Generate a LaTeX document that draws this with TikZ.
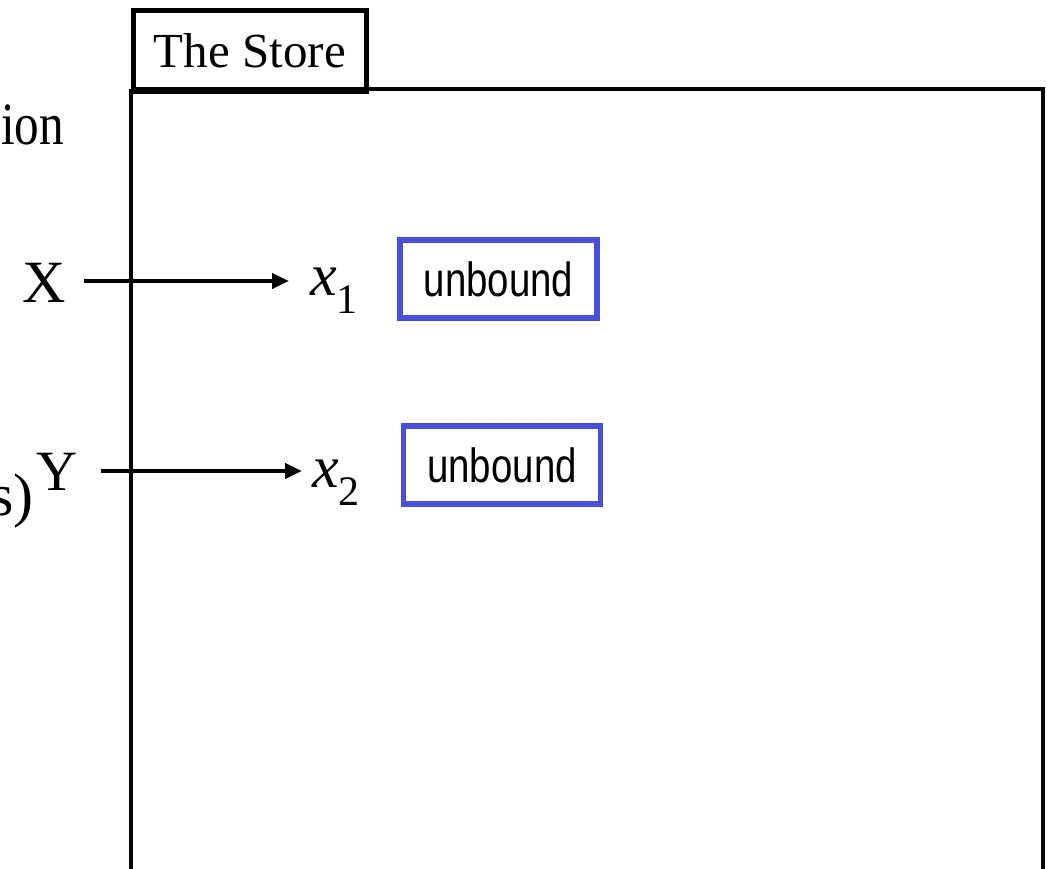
\documentclass[tikz,border=0pt]{standalone}
\usepackage{fontspec}
\setmainfont{Liberation Serif}
\newfontfamily\unbfont{Liberation Sans}
\usetikzlibrary{arrows.meta}
\definecolor{boxblue}{RGB}{72,80,216}
\tikzset{
  frame/.style={draw=black, line width=4.7pt},
  bigtxt/.style={font=\fontsize{60}{60}\selectfont, inner sep=0pt},
  varbox/.style={draw=boxblue, line width=5.5pt, minimum width=197pt, minimum height=78pt, inner sep=0pt,
    font=\unbfont\fontsize{48}{48}\selectfont},
  ptr/.style={line width=4.5pt, -{Triangle[length=17pt,width=15pt]}},
}
\newcommand{\varlabel}[1]{{\itshape x}\raisebox{-18pt}{\fontsize{42}{42}\selectfont #1}}
\begin{document}
\begin{tikzpicture}[x=1pt,y=-1pt]
\useasboundingbox (0,0) rectangle (1047,869);
\clip (0,0) rectangle (1047,869);
% store
\draw[frame] (131,89) -- (1043,89) -- (1043,900);
\draw[frame] (131,900) -- (131,89);
\node[frame, anchor=north west, minimum width=233pt, minimum height=81pt, inner sep=0pt,
  font=\fontsize{49}{49}\selectfont] (tab) at (131,8) {The Store};
% left texts
\node[bigtxt, anchor=base west] (ion) at (1,145) {\scalebox{0.82}[1]{ion}};
\node[bigtxt, anchor=base west] (X) at (22,302) {X};
\node[bigtxt, anchor=base east] (s) at (34,515) {s)};
\node[bigtxt, anchor=base west, font=\fontsize{57}{57}\selectfont] (Y) at (36,490) {Y};
% variables
\node[bigtxt, anchor=base west] (x1) at (310,295) {\varlabel{1}};
\node[bigtxt, anchor=base west] (x2) at (312,487) {\varlabel{2}};
\coordinate (a1) at (84,281);
\coordinate (b1) at (289,281);
\coordinate (a2) at (101,471);
\coordinate (b2) at (302,471);
\draw[ptr] (a1) -- (b1);
\draw[ptr] (a2) -- (b2);
% boxes
\node[varbox] (u1) at (498.5,279) {\scalebox{0.8}[1]{unbound}};
\node[varbox] (u2) at (502,465) {\scalebox{0.8}[1]{unbound}};
\end{tikzpicture}
\end{document}
